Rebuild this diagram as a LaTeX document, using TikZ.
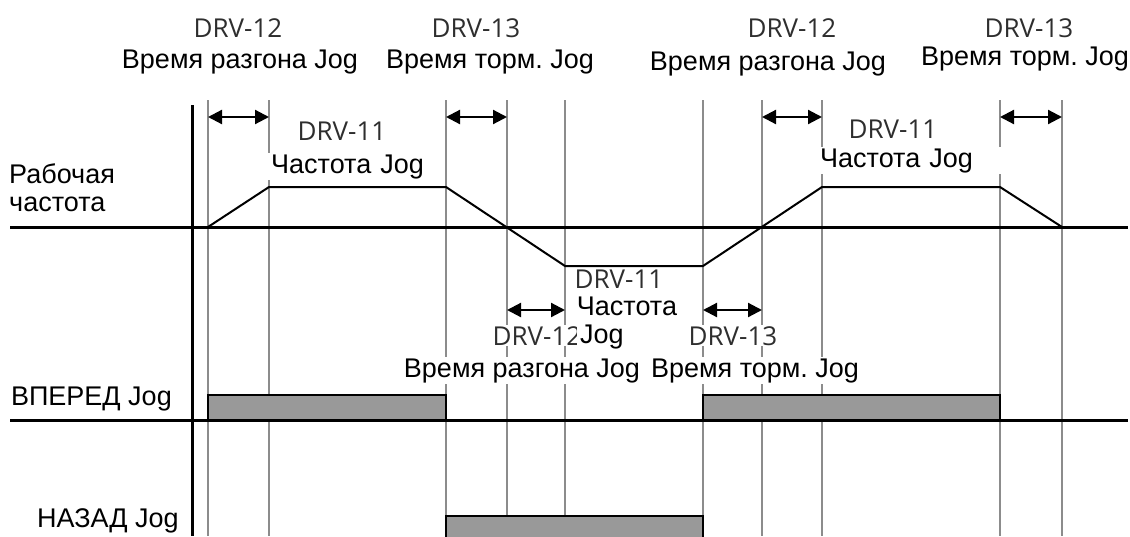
\documentclass[tikz,border=0pt]{standalone}
\usepackage{fontspec}
\setmainfont{Liberation Sans}
\newfontfamily\drvfont{Open Sans}
\usetikzlibrary{arrows.meta}
\frenchspacing
\definecolor{gridgray}{HTML}{8C8C8C}
\definecolor{boxgray}{HTML}{999999}
\definecolor{drvgray}{HTML}{2E2E2E}
\tikzstyle{txt} = [
    font=\fontsize{27}{28}\selectfont,
    fill=white,
    inner sep=1pt
]
\tikzstyle{drv} = [
    font=\drvfont\fontsize{26}{28}\selectfont,
    text=drvgray,
    fill=white,
    inner sep=1pt
]
\tikzstyle{gridline} = [draw=gridgray, line width=1.3pt]
\tikzstyle{axis} = [line width=3pt]
\tikzstyle{wave} = [line width=2pt]
\tikzstyle{pulse} = [fill=boxgray, draw=black, line width=2.5pt]
\tikzstyle{arrow} = [line width=2.2pt, {Triangle[length=14pt,width=14pt]}-{Triangle[length=14pt,width=14pt]}]

\begin{document}
\begin{tikzpicture}[x=1pt, y=-1pt]
\useasboundingbox (0,0) rectangle (1130,536);

% time marks
\foreach \x [count=\i] in {208,269,446,507,565,703,762,822,1000,1062}
    \coordinate (t\i) at (\x,0);
\foreach \i in {1,...,10}
    \draw [gridline] (t\i |- 0,100) -- (t\i |- 0,536);

% axes
\draw [axis] (192,105) -- (192,536);
\draw [axis] (10,227) -- (1128,227);
\draw [axis] (10,420) -- (1128,420);

% output frequency
\draw [wave] (t1 |- 0,227) -- (t2 |- 0,187) -- (t3 |- 0,187)
    -- (t5 |- 0,266) -- (t6 |- 0,266) -- (t8 |- 0,187)
    -- (t9 |- 0,187) -- (t10 |- 0,227);

% jog commands
\draw [pulse] (t1 |- 0,395) rectangle (t3 |- 0,420);
\draw [pulse] (t6 |- 0,395) rectangle (t9 |- 0,420);
\draw [pulse] (t3 |- 0,516) rectangle (t6 |- 0,545);

\draw [arrow] (t1 |- 0,117) -- (t2 |- 0,117);
\draw [arrow] (t3 |- 0,117) -- (t4 |- 0,117);
\draw [arrow] (t7 |- 0,117) -- (t8 |- 0,117);
\draw [arrow] (t9 |- 0,117) -- (t10 |- 0,117);
\draw [arrow] (t4 |- 0,310) -- (t5 |- 0,310);
\draw [arrow] (t6 |- 0,310) -- (t7 |- 0,310);

% top labels
\node (drv12a) [drv, anchor=base] at (238,37) {DRV-12};
\node (acca) [txt, anchor=base] at (240,68) {Время разгона Jog};
\node (drv13a) [drv, anchor=base] at (476,37) {DRV-13};
\node (deca) [txt, anchor=base] at (490,68) {Время торм. Jog};
\node (drv12b) [drv, anchor=base] at (792,37) {DRV-12};
\node (accb) [txt, anchor=base] at (768,70) {Время разгона Jog};
\node (drv13b) [drv, anchor=base] at (1029,37) {DRV-13};
\node (decb) [txt, anchor=base] at (1025,65) {Время торм. Jog};

\node (drv11a) [drv, anchor=base] at (342,140) {DRV-11};
\node (freqa) [txt, anchor=base west, text width=166pt, inner xsep=5pt]
    at (266,173) {Частота Jog};
\node (drv11b) [drv, anchor=base] at (893,138) {DRV-11};
\node (freqb) [txt, anchor=base west, text width=178pt, inner xsep=5pt]
    at (815,167) {Частота Jog};

% middle labels
\node (drv11c) [drv, anchor=base] at (619,288) {DRV-11};
\node (freqc) [txt, anchor=base] at (627,315) {Частота};
\node (drv12c) [drv, anchor=base] at (537,345) {DRV-12};
\node (jogc) [txt, anchor=base west, inner xsep=3pt] at (577,343) {Jog};
\node (drv13c) [drv, anchor=base] at (733,345) {DRV-13};
\node (accc) [txt, anchor=base] at (522,377) {Время разгона Jog};
\node (decc) [txt, anchor=base] at (755,377) {Время торм. Jog};

% left labels
\node (run) [txt, anchor=west, align=left] at (8,188) {Рабочая\\частота};
\node (fwd) [txt, anchor=base east] at (173,405) {ВПЕРЕД Jog};
\node (rev) [txt, anchor=base east] at (180,527) {НАЗАД Jog};

\end{tikzpicture}
\end{document}
